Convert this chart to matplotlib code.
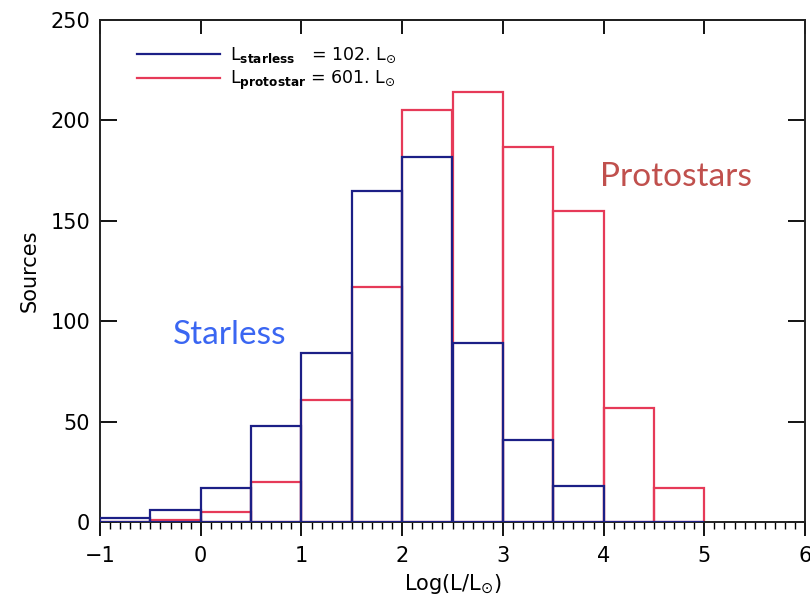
import matplotlib
matplotlib.use("Agg")
import matplotlib.pyplot as plt
from matplotlib.lines import Line2D
from matplotlib.ticker import MultipleLocator

# histogram bins (left edges, log L/Lsun) and counts
bin_left = [-1.0, -0.5, 0.0, 0.5, 1.0, 1.5, 2.0, 2.5, 3.0, 3.5, 4.0, 4.5]
bin_width = 0.5
starless = [2, 6, 17, 48, 84, 165, 182, 89, 41, 18, 0, 0]
protostar = [0, 1, 5, 20, 61, 117, 205, 214, 187, 155, 57, 17]

legend_labels = [
    r"L$_{\mathbf{starless}}$   = 102. L$_{\odot}$",
    r"L$_{\mathbf{protostar}}$ = 601. L$_{\odot}$",
]

blue = "#1c1f86"
red = "#e63a58"

plt.rcParams.update({"font.family": "DejaVu Sans", "font.size": 15})

fig = plt.figure(figsize=(8.1, 6.05), dpi=100)
ax = fig.add_axes([100 / 810, 1 - 522 / 605, 705 / 810, 502 / 605])

ax.bar(bin_left, protostar, width=bin_width, align="edge", fill=False,
       edgecolor=red, linewidth=1.6, zorder=2)
ax.bar(bin_left, starless, width=bin_width, align="edge", fill=False,
       edgecolor=blue, linewidth=1.6, zorder=3)

ax.set_xlim(-1, 6)
ax.set_ylim(0, 250)
ax.xaxis.set_major_locator(MultipleLocator(1))
ax.xaxis.set_minor_locator(MultipleLocator(0.1))
ax.yaxis.set_major_locator(MultipleLocator(50))

for s in ax.spines.values():
    s.set_linewidth(1.4)
    s.set_color("#222222")

ax.tick_params(axis="x", which="major", direction="out", length=10, width=1.3,
               pad=7, labelsize=15, top=False)
ax.tick_params(axis="x", which="minor", direction="out", length=5, width=1.0,
               top=False)
ax.tick_params(axis="y", which="major", direction="in", length=12, width=1.3,
               pad=7, labelsize=15, right=True)

# top axis ticks pointing inward at the integers
top = ax.secondary_xaxis("top")
top.xaxis.set_major_locator(MultipleLocator(1))
top.tick_params(direction="in", length=10, width=1.3, labeltop=False)
top.spines["top"].set_linewidth(1.4)

ax.set_xlabel(r"Log(L/L$_{\odot}$)", fontsize=15)
ax.set_ylabel("Sources", fontsize=15)
ax.xaxis.set_label_coords(0.5, -0.10)
ax.yaxis.set_label_coords(-0.085, 0.5)

handles = [Line2D([], [], color=blue, lw=1.6), Line2D([], [], color=red, lw=1.6)]
ax.legend(handles, legend_labels, loc="upper left", bbox_to_anchor=(0.052, 0.948),
          frameon=False, fontsize=12.5, handlelength=4.8, handletextpad=0.6,
          labelspacing=0.2, borderpad=0, borderaxespad=0)

ax.text(0.29, 93, "Starless", color="#3a66f2", fontsize=24,
        family=["Lato", "DejaVu Sans"], ha="center", va="center")
ax.text(4.72, 172, "Protostars", color="#c0504d", fontsize=24,
        family=["Lato", "DejaVu Sans"], ha="center", va="center")

fig.savefig("out.png", dpi=100)
